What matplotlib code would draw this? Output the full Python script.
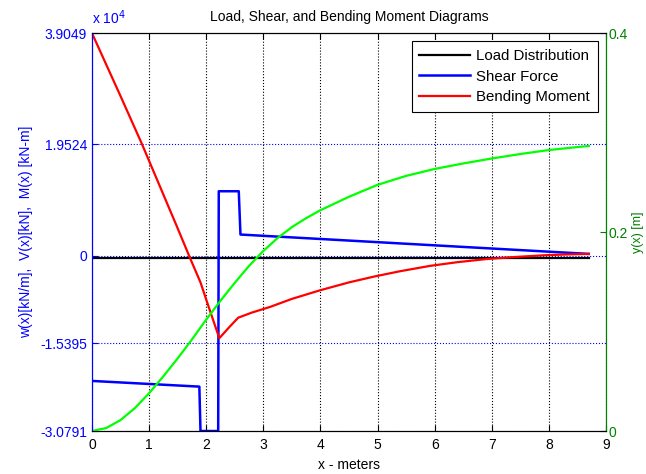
import numpy as np
import matplotlib.pyplot as plt

plt.rcParams['font.family'] = ['Liberation Sans', 'DejaVu Sans']
plt.rcParams['font.size'] = 10

# load distribution w(x) [kN/m]
x_load = [0.0, 8.7]
w_load = [-500.0, -500.0]

# shear force V(x) [kN]
x_shear = [0.0, 1.88, 1.90, 2.21, 2.22, 2.57, 2.60, 8.7]
v_shear = [-22000, -23000, -30791, -30791, 11300, 11300, 3700, 300]

# bending moment M(x) [kN-m]
x_moment = [0.0, 0.5, 0.87, 1.2, 1.5, 1.72, 1.9, 2.04, 2.23, 2.4, 2.56, 2.8, 3.12,
            3.5, 3.99, 4.5, 4.93, 5.39, 5.92, 6.4, 6.91, 7.4, 7.9, 8.3, 8.7]
m_moment = [39049, 28000, 19700, 11900, 4800, -500, -4700, -8900, -14500, -12600,
            -10900, -10000, -9000, -7600, -6100, -4700, -3700, -2750, -1800, -1150,
            -600, -250, 50, 200, 300]

# deflection y(x) [m]
x_defl = [0.0, 0.25, 0.5, 0.75, 1.0, 1.25, 1.5, 1.75, 2.0, 2.25, 2.5, 2.75, 3.0,
          3.25, 3.5, 3.75, 4.0, 4.5, 5.0, 5.5, 6.0, 6.5, 7.0, 7.5, 8.0, 8.5, 8.7]
y_defl = [0.0, 0.003, 0.011, 0.023, 0.038, 0.055, 0.073, 0.092, 0.112, 0.131, 0.149,
          0.166, 0.181, 0.194, 0.205, 0.214, 0.222, 0.2355, 0.2475, 0.2565, 0.2635,
          0.269, 0.274, 0.2785, 0.2825, 0.2855, 0.2866]

left_ticks = [-30791, -15395, 0, 19524, 39049]
left_labels = ['-3.0791', '-1.5395', '0', '1.9524', '3.9049']
right_ticks = [0, 0.2, 0.4]
x_ticks = list(range(10))

blue = (0, 0, 1)
dgreen = (0, 0.5, 0)

fig = plt.figure(figsize=(6.46, 4.74), dpi=100)
ax1 = fig.add_axes([0.1424, 0.0907, 0.7956, 0.8393])
ax2 = ax1.twinx()

l1, = ax1.plot(x_load, w_load, color='k', lw=1.6, label='Load Distribution')
l2, = ax1.plot(x_shear, v_shear, color=blue, lw=1.8, label='Shear Force')
l3, = ax1.plot(x_moment, m_moment, color='red', lw=1.6, label='Bending Moment')
ax2.plot(x_defl, y_defl, color=(0, 1, 0), lw=1.6)

ax1.set_xlim(0, 9)
ax1.set_ylim(left_ticks[0], left_ticks[-1])
ax1.set_xticks(x_ticks)
ax1.set_yticks(left_ticks)
ax1.set_yticklabels(left_labels)
ax2.set_ylim(0, 0.4)
ax2.set_yticks(right_ticks)
ax2.set_yticklabels(['0', '0.2', '0.4'])

ax1.xaxis.grid(True, color='k', linestyle=':', lw=0.8)
ax1.yaxis.grid(True, color=blue, linestyle=':', lw=0.8)

ax1.tick_params(axis='x', direction='in', top=True, length=4, colors='k', pad=5)
ax1.tick_params(axis='y', direction='in', length=4, colors=blue)
ax2.tick_params(axis='y', direction='in', length=4, colors=dgreen, pad=2)

for ax in (ax1, ax2):
    ax.spines['top'].set_color('k')
    ax.spines['bottom'].set_color('k')
    ax.spines['left'].set_color(blue)
    ax.spines['right'].set_color(dgreen)

ax1.set_xlabel('x - meters', labelpad=4)
ax1.set_ylabel('w(x)[kN/m],  V(x)[kN],  M(x) [kN-m]', color=blue, labelpad=5)
ax2.set_ylabel('y(x) [m]', color=dgreen, labelpad=3, fontsize=9)
ax1.set_title('Load, Shear, and Bending Moment Diagrams', fontsize=10, pad=9)
ax1.text(0.0, 1.015, 'x 10$^{4}$', transform=ax1.transAxes, color=blue,
         fontsize=10, ha='left', va='bottom')

leg = ax2.legend(handles=[l1, l2, l3], loc='upper right', fancybox=False,
                 edgecolor='k', framealpha=1, borderaxespad=0.55, handlelength=3.4,
                 handletextpad=0.4, labelspacing=0.45, borderpad=0.5, fontsize=10.8)
leg.get_frame().set_linewidth(0.8)

fig.savefig('out.png', dpi=100)
